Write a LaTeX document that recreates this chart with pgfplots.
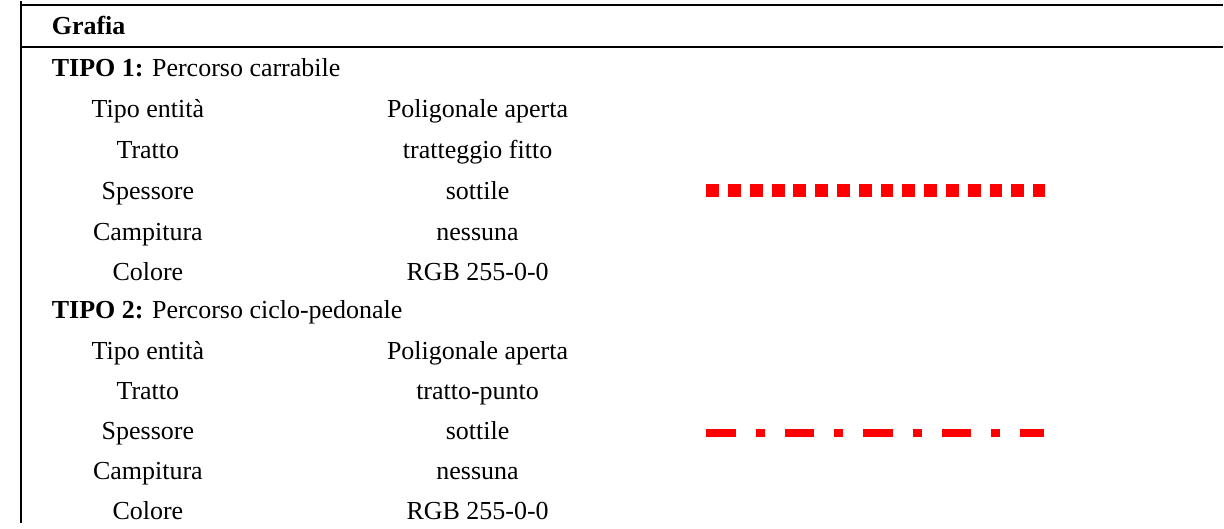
\documentclass[border=0pt]{standalone}
\usepackage{fontspec}
\setmainfont{Liberation Serif}
\usepackage{pgfplots}
\pgfplotsset{compat=1.18}
\definecolor{pured}{RGB}{255,0,0}
\begin{document}
\fontsize{26}{30}\selectfont
\begin{tikzpicture}
\begin{axis}[
  scale only axis, width=1224pt, height=522pt,
  xmin=0, xmax=1224, ymin=0, ymax=522, y dir=reverse,
  hide axis, clip=false,
  every node/.style={inner sep=0pt},
]
% borders
\draw[line width=2.2pt, black] (axis cs:21,0) -- (axis cs:21,522);
\draw[line width=2.2pt, black] (axis cs:20,4) -- (axis cs:1224,4);
\draw[line width=2.2pt, black] (axis cs:20,46) -- (axis cs:1224,46);
\path (axis cs:0,0) rectangle (axis cs:1224,522);
% line samples
\addplot[pured, line width=13pt, dash pattern=on 12.8pt off 9pt, line cap=butt] coordinates {(707,190) (1046,190)};
\addplot[pured, line width=8pt, dash pattern=on 29.5pt off 20pt on 9pt off 20pt, line cap=butt] coordinates {(707,432) (1045,432)};
% texts
\node[anchor=base west] at (axis cs:43,33) {\bfseries Grafia};
\node[anchor=base west] at (axis cs:43,75) {\textbf{TIPO 1:} Percorso carrabile};
\node[anchor=base west] at (axis cs:43,318) {\textbf{TIPO 2:} Percorso ciclo-pedonale};
\node[anchor=base] at (axis cs:148,117) {Tipo entità};
\node[anchor=base] at (axis cs:478,117) {Poligonale aperta};
\node[anchor=base] at (axis cs:148,158) {Tratto};
\node[anchor=base] at (axis cs:478,158) {tratteggio fitto};
\node[anchor=base] at (axis cs:148,199) {Spessore};
\node[anchor=base] at (axis cs:478,199) {sottile};
\node[anchor=base] at (axis cs:148,240) {Campitura};
\node[anchor=base] at (axis cs:478,240) {nessuna};
\node[anchor=base] at (axis cs:148,280) {Colore};
\node[anchor=base] at (axis cs:478,280) {RGB 255-0-0};
\node[anchor=base] at (axis cs:148,359) {Tipo entità};
\node[anchor=base] at (axis cs:478,359) {Poligonale aperta};
\node[anchor=base] at (axis cs:148,399) {Tratto};
\node[anchor=base] at (axis cs:478,399) {tratto-punto};
\node[anchor=base] at (axis cs:148,439) {Spessore};
\node[anchor=base] at (axis cs:478,439) {sottile};
\node[anchor=base] at (axis cs:148,479) {Campitura};
\node[anchor=base] at (axis cs:478,479) {nessuna};
\node[anchor=base] at (axis cs:148,519) {Colore};
\node[anchor=base] at (axis cs:478,519) {RGB 255-0-0};
\end{axis}
\end{tikzpicture}
\end{document}
